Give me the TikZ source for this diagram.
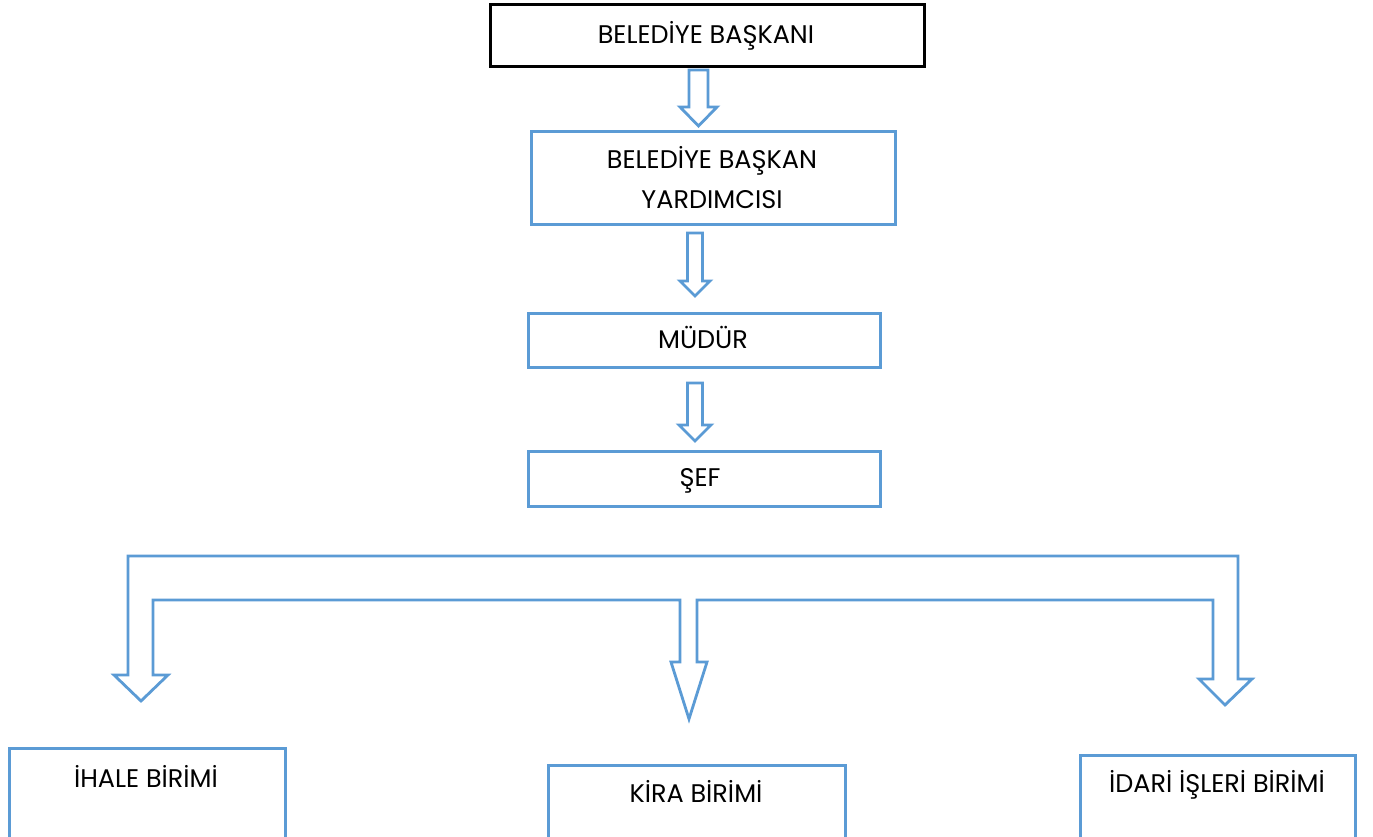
\documentclass[tikz,border=0pt]{standalone}
\usepackage{fontspec}
\setmainfont{Poppins}
\definecolor{blu}{HTML}{5B9BD5}
\newcommand\darrow[6]{\draw[arr] (#1-#5,#2) -- (#1+#5,#2) -- (#1+#5,#3) -- (#1+#6,#3) -- (#1,#4) -- (#1-#6,#3) -- (#1-#5,#3) -- cycle;}
\begin{document}
\begin{tikzpicture}[x=1pt,y=-1pt,
  box/.style={draw=blu, line width=2.8pt, fill=white, inner sep=0pt, anchor=north west},
  topbox/.style={draw=black, line width=2.8pt, fill=white, inner sep=0pt, anchor=north west},
  lbl/.style={font=\fontsize{25.5}{40}\selectfont, text=black, inner sep=0pt, anchor=base},
  arr/.style={draw=blu, line width=2.8pt, line join=miter, fill=white}]
\useasboundingbox (0,0) rectangle (1373,837);
\clip (0,0) rectangle (1373,837);
\fill[white] (0,0) rectangle (1373,837);
% boxes
\node[topbox, minimum width=434pt, minimum height=62pt] (b1) at (489,3) {};
\node[box, minimum width=364pt, minimum height=93pt] (b2) at (530,130) {};
\node[box, minimum width=352pt, minimum height=54pt] (b3) at (527,312) {};
\node[box, minimum width=352pt, minimum height=55pt] (b4) at (527,450) {};
\node[box, minimum width=276pt, minimum height=110pt] (b5) at (8,747) {};
\node[box, minimum width=297pt, minimum height=100pt] (b6) at (547,764) {};
\node[box, minimum width=275pt, minimum height=100pt] (b7) at (1079,754) {};
% labels
\node[lbl] (t1) at (706,44) {BELEDİYE BAŞKANI};
\node[lbl] (t2a) at (712,169) {BELEDİYE BAŞKAN};
\node[lbl] (t2b) at (712,209) {YARDIMCISI};
\node[lbl] (t3) at (703,348) {MÜDÜR};
\node[lbl] (t4) at (700,486) {ŞEF};
\node[lbl] (t5) at (146,787) {İHALE BİRİMİ};
\node[lbl] (t6) at (696,802) {KİRA BİRİMİ};
\node[lbl] (t7) at (1217,792) {İDARİ İŞLERİ BİRİMİ};
% arrows
\darrow{698.5}{70}{107}{126}{9.5}{18.5}
\darrow{695}{233}{281}{296}{7.5}{15}
\darrow{695}{383}{425}{441}{7.5}{16}
% branching arrow
\draw[arr] (128,556) -- (1238,556) -- (1238,679) -- (1252,679) -- (1225,705)
  -- (1199,679) -- (1213,679) -- (1213,600) -- (697,600) -- (697,662)
  -- (707,662) -- (689,719) -- (671,662) -- (680,662) -- (680,600)
  -- (153,600) -- (153,675) -- (168,675) -- (141,701) -- (114,675)
  -- (128,675) -- cycle;
\end{tikzpicture}
\end{document}
